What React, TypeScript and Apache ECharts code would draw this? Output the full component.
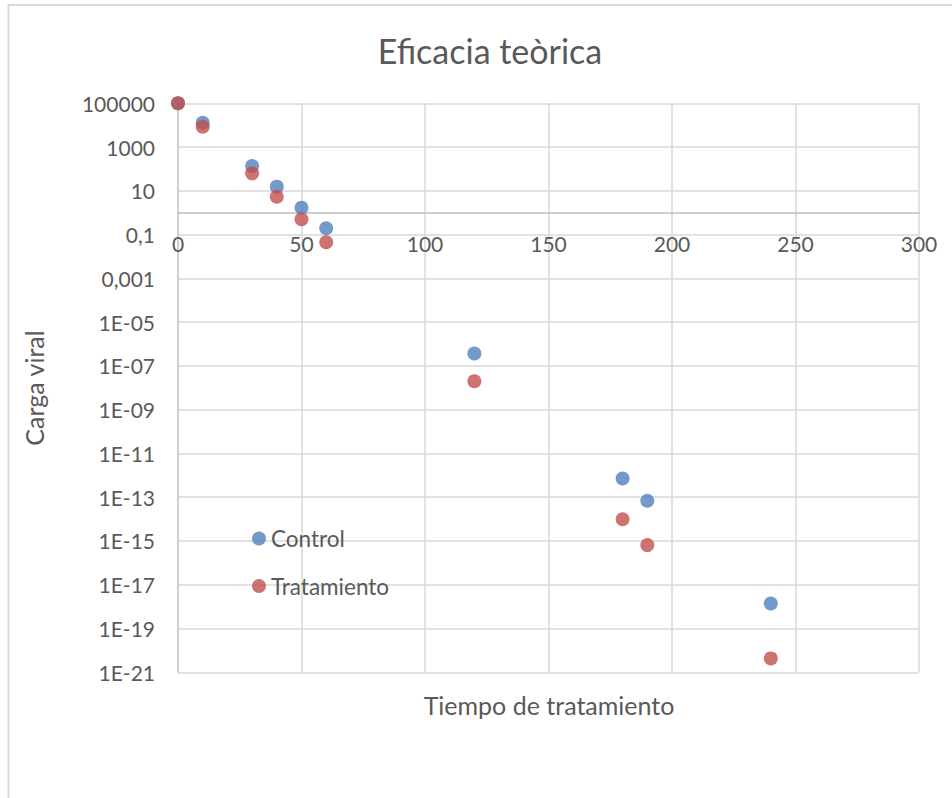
import React, { useEffect, useRef } from "react";
import * as echarts from "echarts";

// Tiempo de tratamiento (x values)
const timePoints = [0, 10, 30, 40, 50, 60, 120, 180, 190, 240];
// Carga viral, Control
const controlLoad = [1e5, 1.3e4, 135, 15.5, 1.7, 0.195, 3.7e-7, 7.2e-13, 6.9e-14, 1.4e-18];
// Carga viral, Tratamiento
const treatmentLoad = [1e5, 8.5e3, 63, 5.4, 0.5, 0.045, 2.0e-8, 9.8e-15, 6.5e-16, 4.3e-21];

const seriesNames = ["Control", "Tratamiento"];
const seriesColors = ["#4F81BD", "#C0504D"];

// y ticks (decimal exponents) and their Excel-style labels
const yTickExponents = [-21, -19, -17, -15, -13, -11, -9, -7, -5, -3, -1, 1, 3, 5];
const yTickLabels = [
  "1E-21", "1E-19", "1E-17", "1E-15", "1E-13", "1E-11", "1E-09",
  "1E-07", "1E-05", "0,001", "0,1", "10", "1000", "100000",
];
const xMin = 0;
const xMax = 300;
const xStep = 50;
// horizontal axis crosses the vertical one at 1 (= 10^0)
const xAxisCrossExponent = 0;

const FONT = "Lato, 'Open Sans', sans-serif";
const GREY = "#595959";

const GRID_TOP = 103.3;
const GRID_BOTTOM = 125.7;
const CHART_H = 798;

export default function App() {
  const ref = useRef<HTMLDivElement>(null);

  useEffect(() => {
    if (!ref.current) return;
    const chart = echarts.init(ref.current, undefined, { renderer: "svg" });
    const toPairs = (vals: number[]) =>
      timePoints.map((t, i) => [t, Math.log10(vals[i])]);

    const yMin = yTickExponents[0];
    const yMax = yTickExponents[yTickExponents.length - 1];
    const plotH = CHART_H - GRID_TOP - GRID_BOTTOM;
    // move the x axis (line + labels) up from the bottom to where y = 1
    const xAxisOffset = -((xAxisCrossExponent - yMin) / (yMax - yMin)) * plotH;

    chart.setOption({
      animation: false,
      backgroundColor: "#ffffff",
      textStyle: { fontFamily: FONT },
      title: {
        text: "Eficacia teòrica",
        left: 485,
        top: 28,
        textAlign: "center",
        textStyle: { fontFamily: FONT, fontSize: 34, fontWeight: "normal", color: GREY },
      },
      grid: { left: 178, top: GRID_TOP, right: 33, bottom: GRID_BOTTOM, containLabel: false },
      legend: {
        orient: "vertical",
        left: 247,
        top: 522,
        itemWidth: 14,
        itemHeight: 14,
        itemGap: 24.5,
        icon: "circle",
        data: seriesNames,
        textStyle: { fontFamily: FONT, fontSize: 22.5, color: GREY, padding: [0, 0, 0, 0] },
      },
      xAxis: {
        type: "value",
        min: xMin,
        max: xMax,
        interval: xStep,
        offset: xAxisOffset,
        axisLine: { show: true, onZero: false, lineStyle: { color: "#bfbfbf", width: 1.5 } },
        axisTick: { show: false },
        axisLabel: { fontFamily: FONT, fontSize: 21, color: GREY, margin: 20 },
        splitLine: { show: true, lineStyle: { color: "#d9d9d9", width: 1.5 } },
      },
      yAxis: {
        type: "value",
        min: yMin,
        max: yMax,
        interval: 2,
        axisLine: { show: true, onZero: false, lineStyle: { color: "#c8c8c8", width: 1.5 } },
        axisTick: { show: false },
        axisLabel: {
          fontFamily: FONT,
          fontSize: 21,
          color: GREY,
          margin: 23,
          formatter: (v: number) => {
            const i = yTickExponents.indexOf(Math.round(v));
            return i >= 0 ? yTickLabels[i] : "";
          },
        },
        splitLine: { show: true, lineStyle: { color: "#d9d9d9", width: 1.5 } },
      },
      graphic: [
        {
          type: "rect",
          shape: { x: 8.5, y: 5, width: 2000, height: 2000 },
          style: { fill: "none", stroke: "#d9d9d9", lineWidth: 2 },
          silent: true,
        },
        {
          type: "text",
          x: 34,
          y: 388,
          rotation: Math.PI / 2,
          style: {
            text: "Carga viral",
            fontFamily: FONT,
            fontSize: 25,
            fill: GREY,
            align: "center",
            verticalAlign: "middle",
          },
        },
        {
          type: "text",
          x: 549,
          y: 705,
          style: {
            text: "Tiempo de tratamiento",
            fontFamily: FONT,
            fontSize: 25,
            fill: GREY,
            align: "center",
            verticalAlign: "middle",
          },
        },
      ],
      series: [
        {
          name: seriesNames[0],
          type: "scatter",
          symbol: "circle",
          symbolSize: 14,
          itemStyle: { color: seriesColors[0] },
          data: toPairs(controlLoad),
        },
        {
          name: seriesNames[1],
          type: "scatter",
          symbol: "circle",
          symbolSize: 14,
          itemStyle: { color: seriesColors[1] },
          data: toPairs(treatmentLoad),
        },
      ],
    });
    return () => chart.dispose();
  }, []);

  return (
    <div
      ref={ref}
      style={{ position: "absolute", left: 0, top: 0, width: 952, height: 798 }}
    />
  );
}
